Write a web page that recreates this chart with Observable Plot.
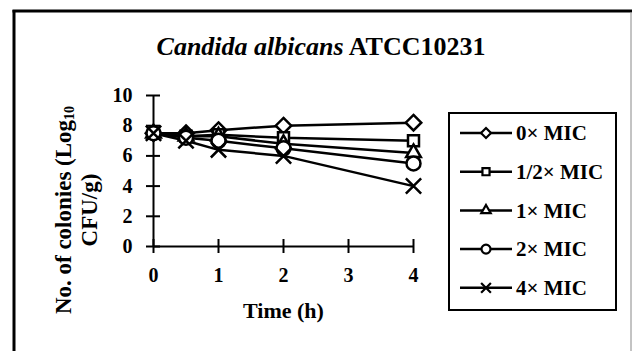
<!DOCTYPE html>
<html><head><meta charset="utf-8">
<script src="https://cdn.jsdelivr.net/npm/d3@7"></script>
<script src="https://cdn.jsdelivr.net/npm/@observablehq/plot@0.6"></script>
<style>
html,body{margin:0;padding:0;background:#fff;}
#chart{position:relative;width:632px;height:351px;overflow:hidden;}
</style></head><body><div id="chart"></div>
<script>
const times = [0, 0.5, 1, 2, 4];
const series = ["0× MIC", "1/2× MIC", "1× MIC", "2× MIC", "4× MIC"];
const mic0 = [7.5, 7.5, 7.7, 8.0, 8.2];
const micHalf = [7.5, 7.3, 7.4, 7.2, 7.0];
const mic1 = [7.5, 7.3, 7.3, 6.8, 6.2];
const mic2 = [7.5, 7.2, 7.0, 6.5, 5.5];
const mic4 = [7.5, 7.0, 6.4, 6.0, 4.0];
const xTicks = [0, 1, 2, 3, 4];
const yTicks = [0, 2, 4, 6, 8, 10];
const titleItalic = "Candida albicans";
const titleRest = " ATCC10231";
const xLabel = "Time (h)";

const symbolNames = ["diamond2", "square2", "triangle2", "circle", "times"];
const d3Symbols = [d3.symbolDiamond2, d3.symbolSquare2, d3.symbolTriangle2, d3.symbolCircle, d3.symbolTimes];

const allValues = [mic0, micHalf, mic1, mic2, mic4];
const rows = [];
series.forEach((s, i) => times.forEach((t, j) => rows.push({series: s, time: t, value: allValues[i][j]})));

const font = "'Liberation Serif', 'Times New Roman', serif";

const plot = Plot.plot({
  width: 632, height: 351,
  marginLeft: 153, marginRight: 219, marginTop: 95, marginBottom: 105,
  style: {fontFamily: font, fontWeight: "bold", fontSize: "20px", color: "#000", background: "transparent", overflow: "visible"},
  x: {domain: [0, 4]},
  y: {domain: [0, 10]},
  symbol: {domain: series, range: symbolNames},
  marks: [
    Plot.axisX(xTicks, {tickSize: 7, tickPadding: 14, label: null, strokeWidth: 2, fontSize: 20}),
    Plot.axisX(xTicks, {tickSize: -7, tickFormat: () => "", label: null, strokeWidth: 2}),
    Plot.axisY(yTicks, {tickSize: 7, tickPadding: 14, label: null, strokeWidth: 2, fontSize: 20}),
    Plot.axisY(yTicks, {tickSize: -7, tickFormat: () => "", label: null, strokeWidth: 2}),
    Plot.ruleX([0], {stroke: "#000", strokeWidth: 2}),
    Plot.ruleY([0], {stroke: "#000", strokeWidth: 2}),
    Plot.line(rows, {x: "time", y: "value", z: "series", stroke: "#000", strokeWidth: 2.5}),
    Plot.dot(rows, {x: "time", y: "value", symbol: "series", fill: "#fff", stroke: "#000", strokeWidth: 2.5, r: 7}),
    Plot.text([xLabel], {frameAnchor: "bottom", lineAnchor: "middle", dy: 64, fontSize: 22, fontWeight: "bold"})
  ]
});
document.getElementById("chart").appendChild(plot);

const svg = d3.select(plot);

// outer frame
svg.append("line").attr("x1", 14).attr("x2", 14).attr("y1", 10).attr("y2", 360).attr("stroke", "#000").attr("stroke-width", 3);
svg.append("line").attr("x1", 12.5).attr("x2", 632).attr("y1", 11).attr("y2", 11).attr("stroke", "#000").attr("stroke-width", 3);
svg.append("line").attr("x1", 631).attr("x2", 631).attr("y1", 12).attr("y2", 360).attr("stroke", "#888").attr("stroke-width", 1);

// title
const title = svg.append("text").attr("x", 321).attr("y", 55).attr("text-anchor", "middle")
  .style("font-family", font).style("font-size", "26px").style("font-weight", "bold").attr("fill", "#000");
title.append("tspan").style("font-style", "italic").text(titleItalic);
title.append("tspan").text(titleRest);

// y label
const yl = svg.append("text").attr("transform", "translate(76,210) rotate(-90)").attr("text-anchor", "middle")
  .style("font-family", font).style("font-size", "23px").style("font-weight", "bold").attr("fill", "#000");
const l1 = yl.append("tspan").attr("x", 0).attr("dy", "-0.2em");
l1.append("tspan").text("No. of colonies (Log");
l1.append("tspan").style("font-size", "14px").attr("dy", "0.15em").text("10");
yl.append("tspan").attr("x", 0).attr("dy", "1.0em").text("CFU/g)");

// legend
const lg = svg.append("g");
lg.append("rect").attr("x", 449).attr("y", 113).attr("width", 167).attr("height", 197)
  .attr("fill", "#fff").attr("stroke", "#000").attr("stroke-width", 2);
series.forEach((s, i) => {
  const y = 133 + i * 38.7;
  lg.append("line").attr("x1", 460).attr("x2", 512).attr("y1", y).attr("y2", y).attr("stroke", "#000").attr("stroke-width", 2.5);
  lg.append("path").attr("transform", `translate(486,${y})`).attr("d", d3.symbol(d3Symbols[i], 64)())
    .attr("fill", "#fff").attr("stroke", "#000").attr("stroke-width", 2.2);
  lg.append("text").attr("x", 516).attr("y", y).attr("dy", "0.35em").attr("text-anchor", "start")
    .style("font-family", font).style("font-size", "21px").style("font-weight", "bold").text(s);
});
</script></body></html>
